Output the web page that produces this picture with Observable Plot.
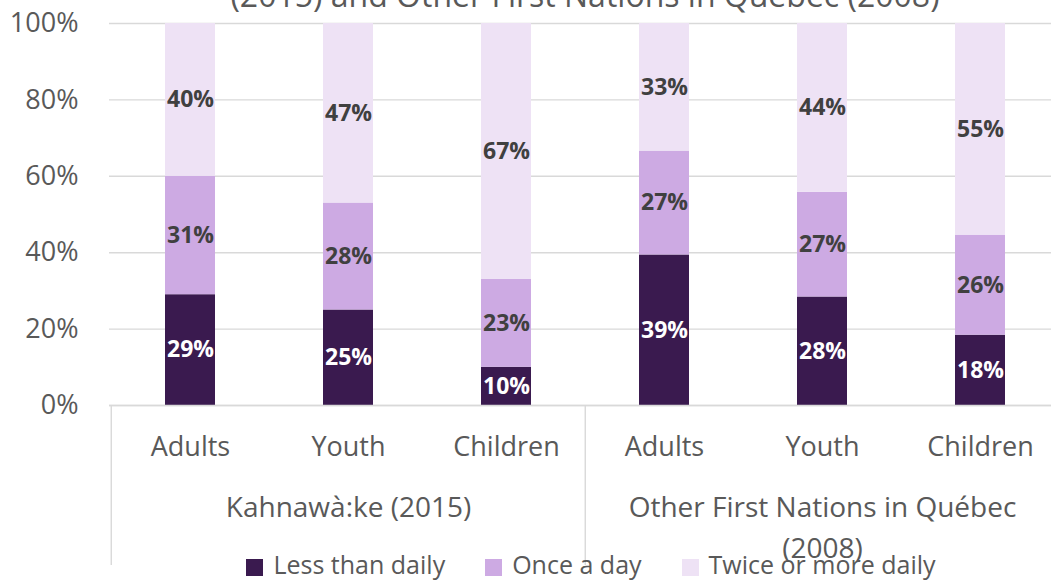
<!DOCTYPE html>
<html><head><meta charset="utf-8">
<script src="https://cdn.jsdelivr.net/npm/d3@7"></script>
<script src="https://cdn.jsdelivr.net/npm/@observablehq/plot@0.6"></script>
<style>
body{margin:0;background:#fff;}
#wrap{position:relative;width:1051px;height:582px;overflow:hidden;font-family:"Open Sans",sans-serif;}
#title{position:absolute;left:0;width:1170px;top:-21px;text-align:center;font-size:32px;line-height:32px;color:#595959;white-space:nowrap;}
#chart{position:absolute;left:0;top:0;}
#legend{position:absolute;left:0;width:1182px;top:552px;display:flex;justify-content:center;font-size:25px;line-height:25px;color:#595959;}
.item{display:flex;align-items:center;margin:0 20px;}
.sw{width:17px;height:17px;margin-right:10px;position:relative;top:3px;}
</style></head>
<body><div id="wrap"><div id="title"></div><div id="chart"></div><div id="legend"></div></div>
<script>
const titleLine = "(2015) and Other First Nations in Québec (2008)";
const groups = ["Kahnawà:ke (2015)", "Other First Nations in Québec\n(2008)"];
const ages = ["Adults", "Youth", "Children"];
const series = ["Less than daily", "Once a day", "Twice or more daily"];
const colors = ["#3a1a4f", "#cdaae3", "#eee2f5"];
const lessThanDaily = [29, 25, 10, 39.4, 28.4, 18.4];
const onceADay = [31, 28, 23, 27.2, 27.4, 26.2];
const twiceOrMore = [40, 47, 67, 33.4, 44.2, 55.4];
const yTicks = [0, 20, 40, 60, 80, 100];

const keys = groups.flatMap(g => ages.map(a => g + "|" + a));
const valuesBySeries = [lessThanDaily, onceADay, twiceOrMore];
const rows = series.flatMap((s, si) => keys.map((k, i) => ({key: k, series: s, value: valuesBySeries[si][i]})));
const fmt = v => Math.round(v) + "%";

document.getElementById("title").textContent = titleLine;

const plot = Plot.plot({
  width: 1051,
  height: 582,
  marginTop: 23,
  marginBottom: 177,
  marginLeft: 109,
  marginRight: 0,
  style: {fontFamily: "'Open Sans', sans-serif", color: "#595959", background: "transparent"},
  x: {type: "band", domain: keys, range: [109, 1060], paddingInner: 0.685, paddingOuter: 0.3425},
  y: {domain: [0, 100]},
  color: {domain: series, range: colors},
  marks: [
    Plot.gridY(yTicks, {stroke: "#d9d9d9", strokeOpacity: 1, strokeWidth: 1.4}),
    Plot.barY(rows, {x: "key", y: "value", fill: "series"}),
    Plot.ruleY([0], {stroke: "#d9d9d9", strokeWidth: 1.4}),
    Plot.ruleX(groups, {x: g => g + "|" + ages[0], y1: 0, y2: 0, insetBottom: -160, dx: -79.25, stroke: "#d9d9d9", strokeWidth: 1.4}),
    Plot.text(rows, Plot.stackY({x: "key", y: "value", text: d => d.series === series[0] ? fmt(d.value) : "", fill: "white", fontWeight: "bold", fontSize: 23})),
    Plot.text(rows, Plot.stackY({x: "key", y: "value", text: d => d.series !== series[0] ? fmt(d.value) : "", fill: "#404040", fontWeight: "bold", fontSize: 23})),
    Plot.axisY({ticks: yTicks, tickFormat: d => d + "%", tickSize: 0, tickPadding: 31, fontSize: 27, label: null}),
    Plot.axisX({tickFormat: d => d.split("|")[1], tickSize: 0, tickPadding: 31, fontSize: 27, label: null}),
    Plot.text(groups, {x: g => g + "|" + ages[1], text: g => g, frameAnchor: "bottom", lineAnchor: "top", dy: 83, fontSize: 28, lineHeight: 1.45, fill: "#595959"})
  ]
});
document.getElementById("chart").appendChild(plot);

const legend = document.getElementById("legend");
series.forEach((s, i) => {
  const item = document.createElement("div");
  item.className = "item";
  const sw = document.createElement("span");
  sw.className = "sw";
  sw.style.background = colors[i];
  const t = document.createElement("span");
  t.textContent = s;
  item.appendChild(sw); item.appendChild(t);
  legend.appendChild(item);
});
</script>
</body></html>
